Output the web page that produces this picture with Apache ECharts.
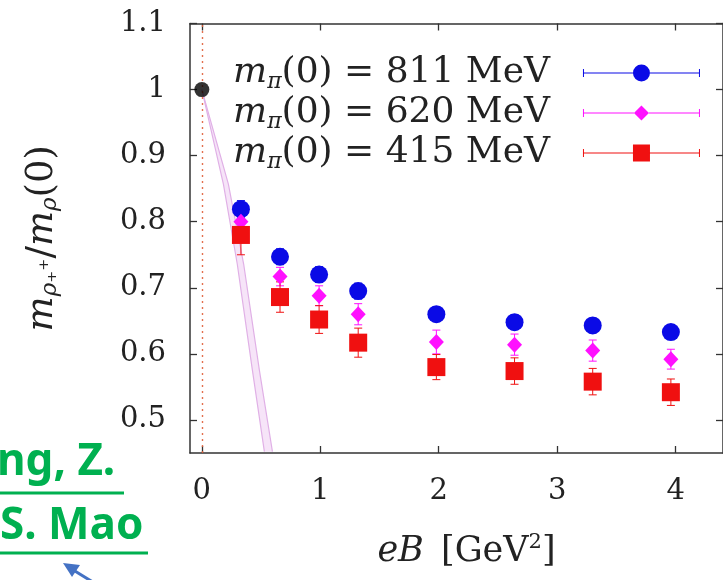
<!DOCTYPE html>
<html>
<head>
<meta charset="utf-8">
<script src="https://cdn.jsdelivr.net/npm/echarts@6/dist/echarts.min.js"></script>
<style>html,body{margin:0;padding:0;background:#fff}#c{width:723px;height:580px}</style>
</head>
<body>
<div id="c"></div>
<script>
// ---- data ----
const eB = [0.33, 0.66, 0.99, 1.32, 1.98, 2.64, 3.30, 3.96];
const masses = ['811', '620', '415'];
const ratio811 = [0.819, 0.747, 0.720, 0.695, 0.660, 0.648, 0.643, 0.633];
const err811   = [0.013, 0.012, 0.012, 0.012, 0.011, 0.011, 0.011, 0.011];
const ratio620 = [0.800, 0.717, 0.688, 0.660, 0.618, 0.614, 0.605, 0.592];
const err620   = [0.014, 0.014, 0.015, 0.016, 0.018, 0.016, 0.016, 0.015];
const ratio415 = [0.780, 0.686, 0.652, 0.617, 0.580, 0.574, 0.558, 0.542];
const err415   = [0.030, 0.023, 0.021, 0.022, 0.019, 0.020, 0.020, 0.020];
const zeroPoint = [[0, 1.0]];
const bandLeftX  = [0, 0.182, 0.299, 0.427, 0.528];
const bandLeftY  = [1.0, 0.857, 0.736, 0.575, 0.452];
const bandRightX = [0, 0.224, 0.353, 0.486, 0.596];
const bandRightY = [1.0, 0.857, 0.736, 0.575, 0.452];
const xTicks = [0, 1, 2, 3, 4];
const yTicks = [0.5, 0.6, 0.7, 0.8, 0.9, 1, 1.1];

const SERIF = 'DejaVu Serif';
const TXT = '#222';
const colors = ['#0a0ae6', '#ff10ff', '#f01010'];
const names = masses.map(m => 'mπ(0) = ' + m + ' MeV');
const values = [ratio811, ratio620, ratio415];
const errs = [err811, err620, err415];
const symbols = ['circle', 'diamond', 'rect'];
const sizes = [18, [15, 16], 18];

const capL = 'M0 5H1V13H0Z M116 5H117V13H116Z ';
const icons = [
  'path://' + capL + 'M0 8.5H50V9.5H0Z M67 8.5H117V9.5H67Z M50 9A8.5 8.5 0 1 1 67 9A8.5 8.5 0 1 1 50 9Z',
  'path://' + capL + 'M0 8.5H51V9.5H0Z M66 8.5H117V9.5H66Z M0 0H0.01V0.01H0Z M58.5 1.5L66 9L58.5 16.5L51 9Z M117 17.99H116.99V18H117Z',
  'path://' + capL + 'M0 8.5H50V9.5H0Z M67 8.5H117V9.5H67Z M50 0.5H67V17.5H50Z'
];

function mkRich(big, small, lh, gap) {
  return {
    i: {fontFamily: SERIF, fontStyle: 'italic', fontSize: big, color: TXT, lineHeight: lh, verticalAlign: 'middle'},
    i0: {fontFamily: SERIF, fontStyle: 'italic', fontSize: big, color: TXT, lineHeight: lh, verticalAlign: 'middle', padding: [0, 0, 0, 20]},
    n: {fontFamily: SERIF, fontSize: big, color: TXT, lineHeight: lh, verticalAlign: 'middle'},
    s: {fontFamily: SERIF, fontStyle: 'italic', fontSize: small, color: TXT, lineHeight: small, verticalAlign: 'bottom'},
    p: {fontFamily: SERIF, fontSize: small, color: TXT, lineHeight: small, verticalAlign: 'top'},
    sp: {fontFamily: SERIF, fontSize: big, lineHeight: lh, padding: [0, 6, 0, 0], verticalAlign: 'middle'},
    g: {fontFamily: SERIF, fontSize: big, color: TXT, lineHeight: lh, verticalAlign: 'middle', padding: [0, gap || 0, 0, 0]}
  };
}

const series = [];
series.push({
  type: 'custom', name: 'band', clip: true, z: 1, silent: true,
  data: [[0]],
  renderItem: function (params, api) {
    const pts = [];
    for (let i = 0; i < bandLeftX.length; i++) pts.push(api.coord([bandLeftX[i], bandLeftY[i]]));
    for (let i = bandRightX.length - 1; i >= 0; i--) pts.push(api.coord([bandRightX[i], bandRightY[i]]));
    return {type: 'polygon', shape: {points: pts}, style: {fill: 'rgba(236,196,240,0.45)', stroke: null}};
  }
});
series.push({type: 'line', name: 'bandL', data: bandLeftX.map((x, i) => [x, bandLeftY[i]]), symbol: 'none', z: 2, silent: true,
  lineStyle: {color: '#e0b0e6', width: 1.2}});
series.push({type: 'line', name: 'bandR', data: bandRightX.map((x, i) => [x, bandRightY[i]]), symbol: 'none', z: 2, silent: true,
  lineStyle: {color: '#e0b0e6', width: 1.2}});
series.push({
  type: 'scatter', name: 'zero', data: zeroPoint, symbol: 'circle', symbolSize: 15, z: 6,
  itemStyle: {color: '#000'},
  markLine: {silent: true, symbol: 'none', label: {show: false}, animation: false,
    lineStyle: {color: '#e0603c', type: [2, 4], width: 1.4, opacity: 0.9},
    data: [{xAxis: 0}]}
});
for (let k = 0; k < 3; k++) {
  const col = colors[k];
  series.push({
    type: 'custom', name: names[k] + ' err', z: 3, silent: true,
    data: eB.map((x, i) => [x, values[k][i] - errs[k][i], values[k][i] + errs[k][i]]),
    renderItem: function (params, api) {
      const a = api.coord([api.value(0), api.value(1)]);
      const b = api.coord([api.value(0), api.value(2)]);
      const w = 4;
      const st = {stroke: col, lineWidth: 1};
      return {type: 'group', children: [
        {type: 'line', shape: {x1: a[0], y1: a[1], x2: b[0], y2: b[1]}, style: st},
        {type: 'line', shape: {x1: a[0] - w, y1: a[1], x2: a[0] + w, y2: a[1]}, style: st},
        {type: 'line', shape: {x1: b[0] - w, y1: b[1], x2: b[0] + w, y2: b[1]}, style: st}
      ]};
    }
  });
  series.push({
    type: 'scatter', name: names[k], z: 5 + k,
    data: eB.map((x, i) => [x, values[k][i]]),
    symbol: symbols[k], symbolSize: sizes[k],
    itemStyle: {color: col, opacity: 1}
  });
}

const chart = echarts.init(document.getElementById('c'), null, {renderer: 'canvas'});
chart.setOption({
  animation: false,
  backgroundColor: '#fff',
  grid: {left: 190, top: 23.5, right: -1, bottom: 127, containLabel: false},
  legend: {
    orient: 'vertical', left: 228, top: 50, itemGap: 2, align: 'right',
    itemWidth: 117, itemHeight: 18, selectedMode: false,
    data: names.map((n, k) => ({name: n, icon: icons[k], itemStyle: {color: colors[k]}})),
    formatter: function (name) {
      const k = names.indexOf(name);
      return '{i|m}{s|π}{g|(0) = ' + masses[k] + ' MeV}';
    },
    textStyle: {rich: mkRich(36, 22, 40, 28)}
  },
  xAxis: [{
    type: 'value', min: -0.1, max: 4.4, position: 'bottom',
    axisLine: {show: true, onZero: false, lineStyle: {color: '#333', width: 1.5}},
    axisTick: {show: true, inside: true, length: 7, customValues: xTicks, lineStyle: {color: '#333', width: 1.3}},
    axisLabel: {customValues: xTicks, margin: 24, fontFamily: SERIF, fontSize: 29, color: TXT},
    splitLine: {show: false},
    name: '{i0|eB}{sp| }{n|[GeV}{p|2}{n|]}', nameLocation: 'middle', nameGap: 79,
    nameTextStyle: {rich: mkRich(35, 21, 40)}
  }, {
    type: 'value', min: -0.1, max: 4.4, position: 'top',
    axisLine: {show: true, onZero: false, lineStyle: {color: '#333', width: 1.5}},
    axisTick: {show: true, inside: true, length: 7, customValues: xTicks, lineStyle: {color: '#333', width: 1.3}},
    axisLabel: {show: false}, splitLine: {show: false}
  }],
  yAxis: [{
    type: 'value', min: 0.45, max: 1.1, position: 'left',
    axisLine: {show: true, onZero: false, lineStyle: {color: '#333', width: 1.5}},
    axisTick: {show: true, inside: true, length: 7, customValues: yTicks, lineStyle: {color: '#333', width: 1.3}},
    axisLabel: {customValues: yTicks, margin: 24, fontFamily: SERIF, fontSize: 29, color: TXT},
    splitLine: {show: false},
    name: '{i|m}{s|ρ₊⁺}{n|/}{i|m}{s|ρ}{n|(0)}', nameLocation: 'middle', nameRotate: 90, nameGap: 128,
    nameTextStyle: {rich: mkRich(37, 23, 40)}
  }, {
    type: 'value', min: 0.45, max: 1.1, position: 'right',
    axisLine: {show: true, onZero: false, lineStyle: {color: '#333', width: 1.5}},
    axisTick: {show: true, inside: true, length: 7, customValues: yTicks, lineStyle: {color: '#333', width: 1.3}},
    axisLabel: {show: false}, splitLine: {show: false}
  }],
  series: series,
  graphic: [
    {type: 'text', left: -3, top: 440, z: 100, style: {text: 'ng, Z.', fill: '#00b050', font: 'bold 44px "Noto Sans"'}},
    {type: 'rect', shape: {x: 0, y: 491.5, width: 124, height: 3}, style: {fill: '#00b050'}, z: 100},
    {type: 'text', left: 0, top: 504, z: 100, style: {text: 'S. Mao', fill: '#00b050', font: 'bold 44px "Noto Sans"'}},
    {type: 'rect', shape: {x: 0, y: 551.5, width: 148, height: 3}, style: {fill: '#00b050'}, z: 100},
    {type: 'line', shape: {x1: 96, y1: 584, x2: 70, y2: 568}, style: {stroke: '#4472c4', lineWidth: 3}, z: 100},
    {type: 'polygon', shape: {points: [[63, 563], [80, 565], [72, 577]]}, style: {fill: '#4472c4'}, z: 100}
  ]
});
</script>
</body>
</html>
